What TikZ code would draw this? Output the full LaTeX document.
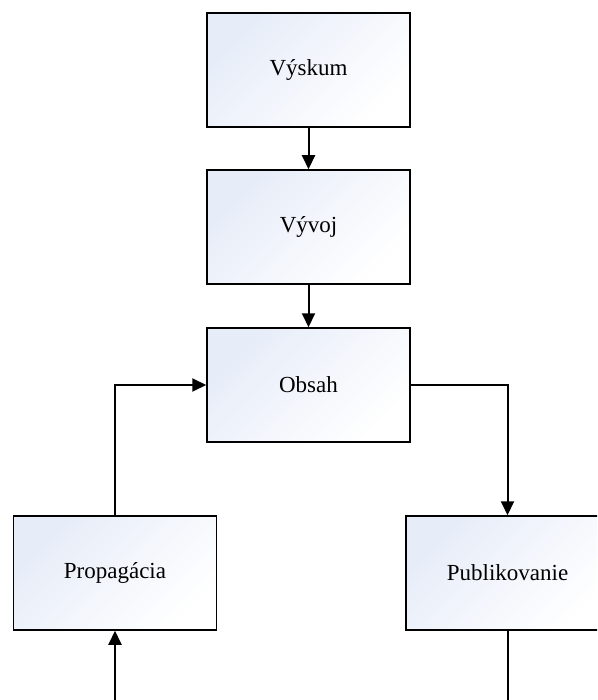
\documentclass[tikz,border=0pt]{standalone}
\usepackage{fontspec}
\setmainfont{Liberation Serif}
\usetikzlibrary{arrows.meta}
\definecolor{boxtint}{HTML}{E6ECF8}
\tikzset{
  stagebox/.style={draw=black, line width=1.5pt, minimum width=203pt, minimum height=114pt,
    inner sep=0pt, top color=boxtint, bottom color=white,
    shading angle=45, font=\fontsize{23}{27}\selectfont},
  link/.style={draw=black, line width=2pt, -{Triangle[length=14pt,width=13pt]}},
  plainlink/.style={draw=black, line width=2pt}
}
\begin{document}
\begin{tikzpicture}[x=1pt, y=-1pt]
  \useasboundingbox (0,0) rectangle (597,700);
  \clip (0,0) rectangle (597,700);
  \fill[white] (0,0) rectangle (597,700);

  \node[stagebox] (vyskum) at (308.5,70) {Výskum};
  \node[stagebox] (vyvoj)  at (308.5,227) {Vývoj};
  \node[stagebox] (obsah)  at (308.5,385) {Obsah};
  \node[stagebox] (prop)   at (115,573) {Propagácia};
  \node[stagebox] (publ)   at (507.5,573) {Publikovanie};

  \coordinate (propin) at (115,710);
  \coordinate (publout) at (507.5,710);

  \draw[link] (vyskum.south) -- (vyvoj.north);
  \draw[link] (vyvoj.south) -- (obsah.north);
  \draw[link] (obsah.east) -| (publ.north);
  \draw[link] (prop.north) |- (obsah.west);
  \draw[link] (propin) -- (prop.south);
  \draw[plainlink] (publ.south) -- (publout);
\end{tikzpicture}
\end{document}
